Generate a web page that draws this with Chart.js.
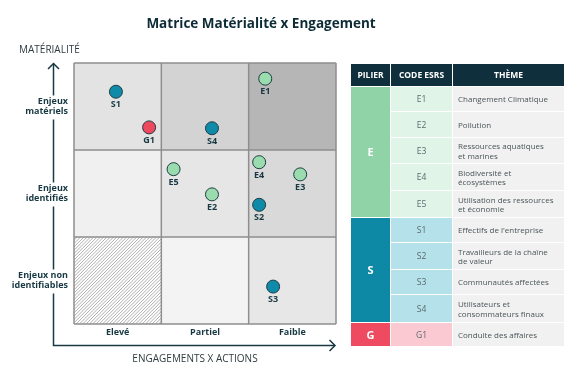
<!DOCTYPE html>
<html>
<head>
<meta charset="utf-8">
<script src="https://cdn.jsdelivr.net/npm/chart.js@4.4.0/dist/chart.umd.min.js"></script>
<style>
  body { margin: 0; background: #fff; font-family: "Open Sans", sans-serif; }
  #wrap { position: relative; width: 578px; height: 380px; overflow: hidden; }
  #canvas { position: absolute; left: 0; top: 0; }
  #esrs { position: absolute; left: 350px; top: 63px; width: 214px; border-collapse: collapse;
          border: 1px solid #7d8b8f; font-size: 8px; table-layout: fixed; }
  #esrs td, #esrs th { padding: 0; border: 1px solid #fff; line-height: 9.5px; }
  #esrs th { background: #0e2f3b; color: #fff; font-weight: 700; height: 22px; font-size: 8.5px; }
  #esrs td.pil { color: #fff; font-weight: 700; font-size: 11px; text-align: center; }
  #esrs td.code { text-align: center; color: #5a6a6e; font-size: 8.5px; }
  #esrs td.theme { background: #f1f1f1; color: #4a5558; padding-left: 5px; }
</style>
</head>
<body>
<div id="wrap">
  <canvas id="canvas" width="578" height="380"></canvas>
  <table id="esrs"></table>
</div>
<script>
const pointCodes = ["E1", "E2", "E3", "E4", "E5", "S1", "S2", "S3", "S4", "G1"];
const engagementX = [2.19, 1.58, 2.59, 2.12, 1.14, 0.48, 2.12, 2.28, 1.58, 0.86];
const materialiteY = [2.82, 1.49, 1.72, 1.86, 1.78, 2.67, 1.37, 0.43, 2.25, 2.26];

const xTickLabels = ["Elevé", "Partiel", "Faible"];
const yTickLabels = [["Enjeux non", "identifiables"], ["Enjeux", "identifiés"], ["Enjeux", "matériels"]];

const pillars = ["E", "S", "G"];
const themes = [
  "Changement Climatique",
  "Pollution",
  "Ressources aquatiques<br>et marines",
  "Biodiversité et<br>écosystèmes",
  "Utilisation des ressources<br>et économie",
  "Effectifs de l'entreprise",
  "Travailleurs de la chaîne<br>de valeur",
  "Communautés affectées",
  "Utilisateurs et<br>consommateurs finaux",
  "Conduite des affaires"
];
const rowHeights = [25, 26, 26, 27, 27, 25, 27, 25, 28, 24];

const pillarColors = { E: "#9bdcae", S: "#0f8aa8", G: "#ee4a5f" };
const pillarBg = { E: "#8fd3a6", S: "#0d88a5", G: "#ee4b60" };
const codeBg = { E: "#e0f4e7", S: "#b5e1ea", G: "#fac9d1" };

const FONT = "'Open Sans', sans-serif";
const DARK = "#183943";

// table on the right
const table = document.getElementById("esrs");
let html = '<colgroup><col style="width:40px"><col style="width:62px"><col style="width:112px"></colgroup>';
html += "<tr><th>PILIER</th><th>CODE ESRS</th><th>THÈME</th></tr>";
pointCodes.forEach((code, i) => {
  const p = code[0];
  const first = pointCodes.findIndex(c => c[0] === p) === i;
  const span = pointCodes.filter(c => c[0] === p).length;
  html += '<tr style="height:' + rowHeights[i] + 'px">';
  if (first) html += '<td class="pil" rowspan="' + span + '" style="background:' + pillarBg[p] + '">' + p + "</td>";
  html += '<td class="code" style="background:' + codeBg[p] + '">' + code + "</td>";
  html += '<td class="theme">' + themes[i] + "</td></tr>";
});
table.innerHTML = html;

// cell fills, row 0 = bottom
const cellFill = [
  ["hatch", "#f3f3f3", "#e7e7e7"],
  ["#f0f0f0", "#e6e6e6", "#d9d9d9"],
  ["#e3e3e3", "#d3d3d3", "#b6b6b6"]
];

const matrixPlugin = {
  id: "matrix",
  beforeDraw(chart) {
    const { ctx, scales: { x, y } } = chart;
    ctx.save();
    for (let r = 0; r < 3; r++) {
      for (let c = 0; c < 3; c++) {
        const x0 = x.getPixelForValue(c), x1 = x.getPixelForValue(c + 1);
        const y0 = y.getPixelForValue(r + 1), y1 = y.getPixelForValue(r);
        if (cellFill[r][c] === "hatch") {
          ctx.fillStyle = "#fff";
          ctx.fillRect(x0, y0, x1 - x0, y1 - y0);
          ctx.save();
          ctx.beginPath();
          ctx.rect(x0, y0, x1 - x0, y1 - y0);
          ctx.clip();
          ctx.strokeStyle = "#9a9a9a";
          ctx.lineWidth = 0.8;
          const h = y1 - y0;
          for (let k = -h; k < x1 - x0; k += 3.3) {
            ctx.beginPath();
            ctx.moveTo(x0 + k, y1);
            ctx.lineTo(x0 + k + h, y0);
            ctx.stroke();
          }
          ctx.restore();
        } else {
          ctx.fillStyle = cellFill[r][c];
          ctx.fillRect(x0, y0, x1 - x0, y1 - y0);
        }
      }
    }
    // grid
    ctx.strokeStyle = "#8e8e8e";
    ctx.lineWidth = 1.5;
    for (let v = 0; v <= 3; v++) {
      const px = x.getPixelForValue(v), py = y.getPixelForValue(v);
      ctx.beginPath();
      ctx.moveTo(px, y.getPixelForValue(3));
      ctx.lineTo(px, y.getPixelForValue(0));
      ctx.stroke();
      ctx.beginPath();
      ctx.moveTo(x.getPixelForValue(0), py);
      ctx.lineTo(x.getPixelForValue(3), py);
      ctx.stroke();
    }

    // axis arrows
    const ax = 53.5, ay = 345.5, top = 63.5, right = 335;
    ctx.strokeStyle = DARK;
    ctx.lineWidth = 1.5;
    let segStart = top;
    [2.5, 1.5, 0.5].forEach(v => {
      const py = y.getPixelForValue(v);
      ctx.beginPath();
      ctx.moveTo(ax, segStart);
      ctx.lineTo(ax, py - 11);
      ctx.stroke();
      segStart = py + 13;
    });
    ctx.beginPath();
    ctx.moveTo(ax, segStart);
    ctx.lineTo(ax, ay);
    ctx.lineTo(right, ay);
    ctx.stroke();
    ctx.beginPath();
    ctx.moveTo(ax - 5.5, top + 5.5);
    ctx.lineTo(ax, top);
    ctx.lineTo(ax + 5.5, top + 5.5);
    ctx.stroke();
    ctx.beginPath();
    ctx.moveTo(right - 5.5, ay - 5.5);
    ctx.lineTo(right, ay);
    ctx.lineTo(right - 5.5, ay + 5.5);
    ctx.stroke();

    // titles
    ctx.fillStyle = "#0d2b36";
    ctx.font = "bold 13.5px " + FONT;
    ctx.textAlign = "center";
    ctx.textBaseline = "middle";
    ctx.fillText("Matrice Matérialité x Engagement", 261, 24);
    ctx.fillStyle = "#2f3b3f";
    ctx.font = "10px " + FONT;
    ctx.textAlign = "left";
    ctx.fillText("MATÉRIALITÉ", 19, 50);
    ctx.textAlign = "center";
    ctx.fillText("ENGAGEMENTS X ACTIONS", 195, 359);
    ctx.restore();
  },
  afterDatasetsDraw(chart) {
    const { ctx } = chart;
    ctx.save();
    ctx.fillStyle = DARK;
    ctx.font = "bold 9px " + FONT;
    ctx.textAlign = "center";
    ctx.textBaseline = "middle";
    chart.data.datasets.forEach((ds, i) => {
      chart.getDatasetMeta(i).data.forEach((el, j) => {
        ctx.fillText(ds.data[j].code, el.x, el.y + 13);
      });
    });
    ctx.restore();
  }
};

const datasets = pillars.map(p => {
  const idx = pointCodes.map((c, i) => i).filter(i => pointCodes[i][0] === p);
  return {
    label: p,
    data: idx.map(i => ({ x: engagementX[i], y: materialiteY[i], code: pointCodes[i] })),
    backgroundColor: pillarColors[p],
    borderColor: "#1f3d44",
    borderWidth: 1,
    pointRadius: 6.5,
    pointHoverRadius: 6.5
  };
});

const centerTicks = s => { s.ticks = [0.5, 1.5, 2.5].map(v => ({ value: v })); };

const ctx = document.getElementById("canvas").getContext("2d");
new Chart(ctx, {
  type: "scatter",
  data: { datasets },
  options: {
    responsive: false,
    animation: false,
    events: [],
    layout: { padding: { top: 63, right: 242, bottom: 0, left: 0 } },
    plugins: { legend: { display: false }, tooltip: { enabled: false } },
    scales: {
      x: {
        type: "linear", min: 0, max: 3,
        afterBuildTicks: centerTicks,
        afterFit: s => { s.height = 56; },
        grid: { display: false, drawTicks: false },
        border: { display: false },
        ticks: {
          callback: v => xTickLabels[Math.floor(v)],
          font: { family: FONT, size: 9, weight: "bold" },
          color: DARK, padding: 3, maxRotation: 0, autoSkip: false
        }
      },
      y: {
        type: "linear", min: 0, max: 3,
        afterBuildTicks: centerTicks,
        afterFit: s => { s.width = 74; },
        grid: { display: false, drawTicks: false },
        border: { display: false },
        ticks: {
          callback: v => yTickLabels[Math.floor(v)],
          font: { family: FONT, size: 9, weight: "bold", lineHeight: 1.05 },
          color: DARK, padding: 6, autoSkip: false
        }
      }
    }
  },
  plugins: [matrixPlugin]
});
</script>
</body>
</html>
